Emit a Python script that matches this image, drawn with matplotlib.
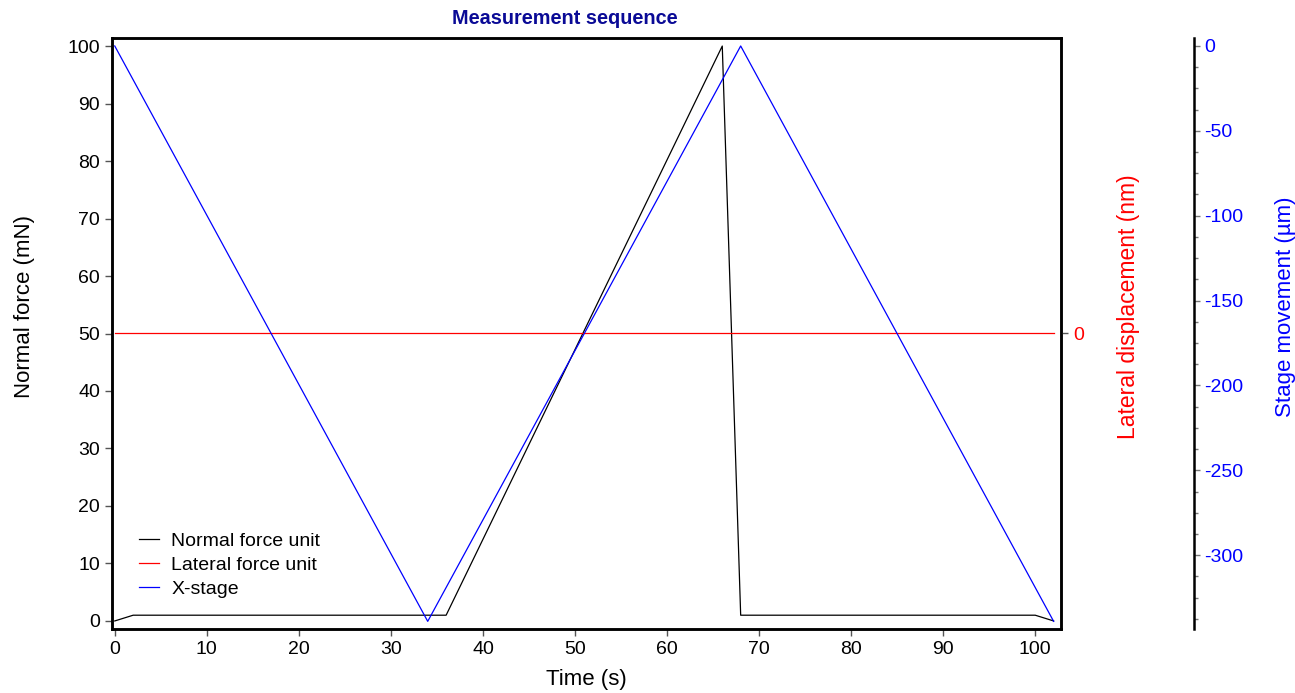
import matplotlib.pyplot as plt
from matplotlib.ticker import MultipleLocator

plt.rcParams['font.family'] = ['Liberation Sans', 'DejaVu Sans']
plt.rcParams['axes.unicode_minus'] = False

# data
time_normal = [0, 2, 36, 66, 68, 100, 102]
normal_force = [0, 1, 1, 100, 1, 1, 0]
time_lateral = [0, 102]
lateral_disp = [0, 0]
time_stage = [0, 34, 68, 102]
stage_pos = [0, -339, 0, -339]

xticks = list(range(0, 101, 10))
yticks = list(range(0, 101, 10))
stage_ticks = [0, -50, -100, -150, -200, -250, -300]

fig = plt.figure(figsize=(12.95, 6.93), dpi=100)
ax = fig.add_axes([112/1295, 1-629/693, (1061-112)/1295, (629-38)/693])
ax2 = ax.twinx()
ax3 = ax.twinx()

l1, = ax.plot(time_normal, normal_force, color='black', lw=0.9, label='Normal force unit')
l2, = ax2.plot(time_lateral, lateral_disp, color='red', lw=0.9, label='Lateral force unit')
l3, = ax3.plot(time_stage, stage_pos, color='blue', lw=0.9, label='X-stage')

ax.set_xlim(-0.3, 102.8)
ax.set_ylim(-1.4, 101.4)
ax.set_xticks(xticks)
ax.set_yticks(yticks)
ax2.set_ylim(-1, 1)
ax2.set_yticks([0])
ax3.set_ylim(-343.5, 4.7)
ax3.set_yticks(stage_ticks)
ax3.yaxis.set_minor_locator(MultipleLocator(12.5))

for a in (ax, ax2):
    for s in a.spines.values():
        s.set_linewidth(1.8)
for s in ('top', 'bottom', 'left'):
    ax3.spines[s].set_visible(False)
ax3.spines['right'].set_position(('axes', 1.14))
ax3.spines['right'].set_linewidth(1.8)

ax.tick_params(labelsize=14, length=5, width=1, color='#555555', direction='out')
ax2.tick_params(labelsize=14, length=5, width=1, color='#555555', labelcolor='red')
ax3.tick_params(which='both', labelsize=14, width=1, color='#777777', labelcolor='blue')
ax3.tick_params(which='major', length=4)
ax3.tick_params(which='minor', length=3)

ax.set_xlabel('Time (s)', fontsize=16)
ax.set_ylabel('Normal force (mN)', fontsize=16)
ax2.set_ylabel('Lateral displacement (nm)', fontsize=16.5, color='red')
ax3.set_ylabel('Stage movement (\u00b5m)', fontsize=16, color='blue')
ax.yaxis.set_label_coords(-0.081, 0.545)
ax.xaxis.set_label_coords(0.5, -0.068)
ax2.yaxis.set_label_coords(1.059, 0.545)
ax3.yaxis.set_label_coords(1.2255, 0.545)

fig.text(565/1295, 1-18/693, 'Measurement sequence', ha='center', va='center',
         fontsize=14.3, fontweight='bold', color='#0A0A96')

ax3.legend(handles=[l1, l2, l3], loc='lower left', bbox_to_anchor=(0.01, 0.023),
           frameon=False, fontsize=14, handlelength=1.03, handletextpad=0.62,
           labelspacing=0.33)

fig.savefig('out.png', dpi=100)
